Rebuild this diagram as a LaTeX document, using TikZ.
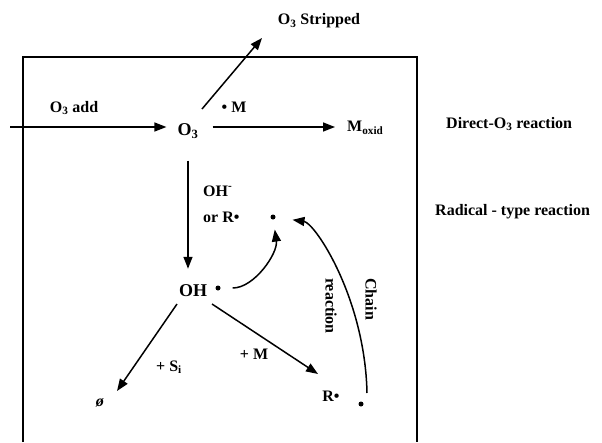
\documentclass[tikz,border=0pt]{standalone}
\usepackage{fontspec}
\setmainfont{Liberation Serif}
\usetikzlibrary{arrows.meta}
\begin{document}
\begin{tikzpicture}[x=1pt,y=-1pt,
  lbl/.style={font=\bfseries\fontsize{16}{18}\selectfont, inner sep=0pt},
  big/.style={font=\bfseries\fontsize{18}{20}\selectfont, inner sep=0pt},
  arr/.style={line width=1.5pt, -{Triangle[length=12pt,width=9pt]}},
  ln/.style={line width=1.5pt},
  bigdot/.style={circle, fill=black, inner sep=0pt, minimum size=5pt}]
\useasboundingbox (0,0) rectangle (602,442);
% frame
\draw[ln] (23,442) -- (23,57) -- (417,57) -- (417,442);
% nodes
\coordinate (in) at (10,127);
\node[big] (O3) at (188,131) {O\textsubscript{3}};
\node[lbl] (add) at (74,108) {O\textsubscript{3} add};
\node[lbl] (strip) at (319,21) {O\textsubscript{3} Stripped};
\node[lbl] (dM) at (234,107) {• M};
\node[lbl, anchor=west] (Mox) at (347,128) {M\textsubscript{oxid}};
\node[lbl, anchor=west] (direct) at (446,124) {Direct-O\textsubscript{3} reaction};
\node[lbl, anchor=west] (radical) at (435,212) {Radical - type reaction};
\node[lbl, anchor=west] (OHm) at (203,191) {OH\textsuperscript{-}};
\node[lbl, anchor=west] (orR) at (203,217) {or R•};
\node[bigdot] (topdot) at (273,217) {};
\node[big] (OH) at (193,291) {OH};
\node[bigdot] (ohdot) at (218,288) {};
\node[lbl] (phi) at (100,403) {\textit{ø}};
\node[lbl] (Si) at (169,367) {+ S\textsubscript{i}};
\node[lbl] (pM) at (254,354) {+ M};
\node[lbl] (R) at (331,396) {R•};
\node[bigdot] (Rdot) at (361,404) {};
\node[lbl, rotate=-90] (chain) at (371,299) {Chain};
\node[lbl, rotate=-90] (react) at (331,306) {reaction};
% connectors
\draw[arr, shorten >=11pt] (in) -- (in -| O3.west);
\draw[arr, shorten <=14pt, shorten >=12pt] (O3.east |- in) -- (Mox.west |- in);
\draw[arr] ([shift={(14,-22)}]O3.center) -- ([shift={(-57,17)}]strip.center);
\draw[arr, shorten <=22pt, shorten >=16pt] (O3.south) -- (O3.south |- OH.north);
\draw[arr, shorten <=12pt, shorten >=10pt] (ohdot) to[out=0, in=-82] (topdot);
\draw[arr] ([shift={(-16,13)}]OH.center) -- ([shift={(17,-12)}]phi.center);
\draw[arr] ([shift={(19,13)}]OH.center) -- ([shift={(-13,-22)}]R.center);
\draw[arr, shorten >=17pt] ([shift={(6,-11)}]Rdot.center) .. controls +(-2,-95) and +(42,6) .. (topdot);
\end{tikzpicture}
\end{document}
